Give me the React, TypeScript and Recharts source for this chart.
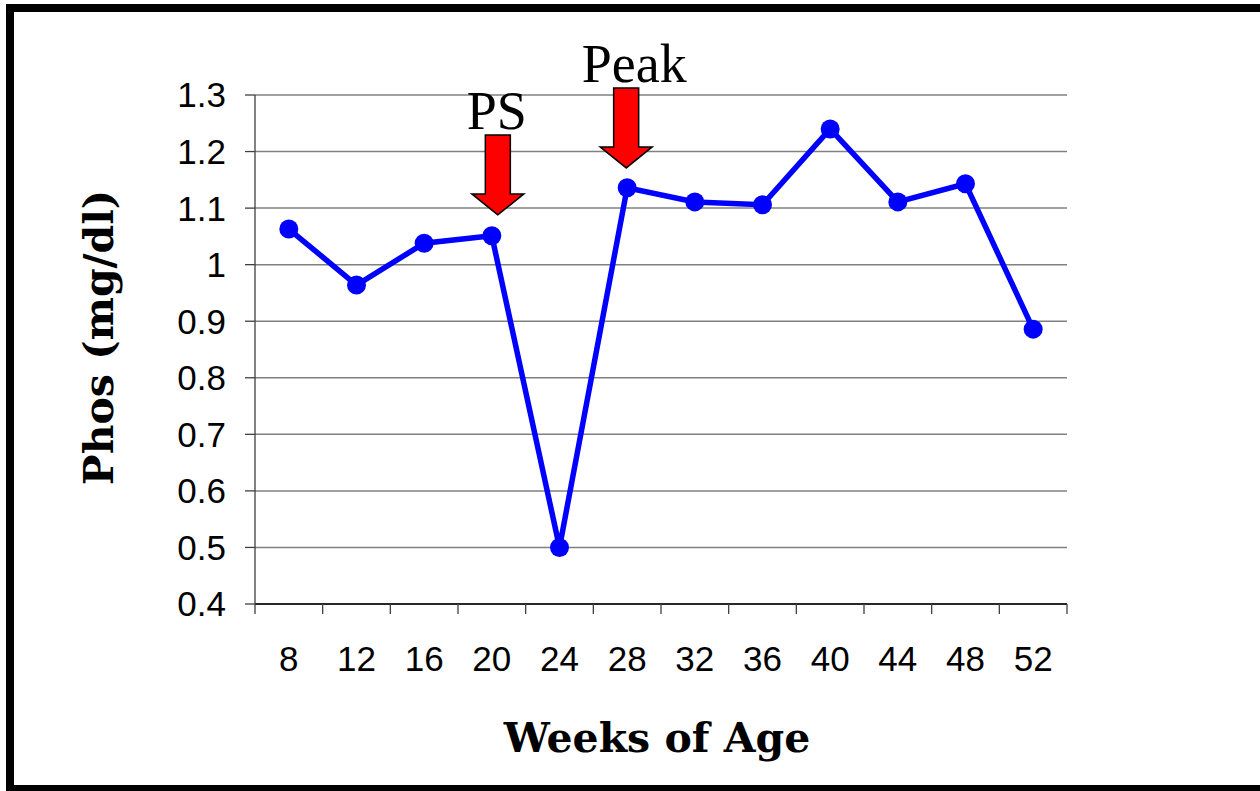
import { LineChart, Line, XAxis, YAxis, CartesianGrid, ReferenceDot } from 'recharts';

const weeks = [8, 12, 16, 20, 24, 28, 32, 36, 40, 44, 48, 52];
const phos = [1.063, 0.964, 1.038, 1.051, 0.5, 1.136, 1.111, 1.106, 1.24, 1.111, 1.143, 0.886];
const yTicks = [0.4, 0.5, 0.6, 0.7, 0.8, 0.9, 1, 1.1, 1.2, 1.3];
const boundaries = [6, 10, 14, 18, 22, 26, 30, 34, 38, 42, 46, 50, 54];
const arrowLabels = ['PS', 'Peak'];
const arrowWeeks = [20, 28];
const arrowTips = [1.088, 1.171];

const data = weeks.map((w, i) => ({ week: w, phos: phos[i] }));
const xTicks = [...boundaries, ...weeks].sort((a, b) => a - b);

const titleFont = '"DejaVu Serif", serif';

function WeekTick(props: any) {
  const { x, y, payload } = props;
  if (boundaries.includes(payload.value)) {
    return <line x1={x} y1={y} x2={x} y2={y + 10} stroke="#404040" strokeWidth={1.3} />;
  }
  return (
    <text x={x} y={y + 67} textAnchor="middle" fontSize={35} fontFamily='"Liberation Sans", Arial, sans-serif' fill="#000">
      {payload.value}
    </text>
  );
}

function Arrow(props: any, label: string, shift: number, textShift: number) {
  const tx = props.cx + shift;
  const ty = props.cy;
  const pts = [
    [tx, ty],
    [tx - 26, ty - 21],
    [tx - 12.5, ty - 21],
    [tx - 12.5, ty - 80],
    [tx + 12.5, ty - 80],
    [tx + 12.5, ty - 21],
    [tx + 26, ty - 21],
  ]
    .map((p) => p.join(','))
    .join(' ');
  return (
    <g>
      <polygon points={pts} fill="#FF0000" stroke="#000" strokeWidth={1.5} strokeLinejoin="miter" />
      <text x={tx + textShift} y={ty - 86} textAnchor="middle" fontSize={54} fontFamily='"Liberation Serif", "Times New Roman", serif' fill="#000">
        {label}
      </text>
    </g>
  );
}

export default function App() {
  return (
    <div style={{ position: 'absolute', left: 0, top: 0, width: 1260, height: 791, background: '#fff', overflow: 'hidden' }}>
      <div
        style={{
          position: 'absolute',
          left: 6,
          top: 4,
          width: 1300,
          height: 787,
          boxSizing: 'border-box',
          borderLeft: '8px solid #000',
          borderTop: '8px solid #000',
          borderBottom: '6px solid #000',
        }}
      />
      <div style={{ position: 'absolute', left: 0, top: 0 }}>
        <LineChart width={1260} height={791} data={data} margin={{ top: 95, right: 193, bottom: 0, left: 0 }}>
          <CartesianGrid vertical={false} stroke="#808080" strokeWidth={1.5} />
          <XAxis
            dataKey="week"
            type="number"
            domain={[6, 54]}
            ticks={xTicks}
            interval={0}
            height={187}
            tickLine={false}
            tickSize={0}
            tickMargin={0}
            axisLine={{ stroke: '#000', strokeWidth: 1.5 }}
            tick={<WeekTick />}
            label={(p: any) => {
              const vb = p.viewBox;
              return (
                <text x={vb.x + vb.width / 2 - 4} y={vb.y + 148} textAnchor="middle" fontSize={41} fontWeight="bold" fontFamily={titleFont} fill="#000">
                  Weeks of Age
                </text>
              );
            }}
          />
          <YAxis
            type="number"
            domain={[0.4, 1.3]}
            ticks={yTicks}
            interval={0}
            width={255}
            tickSize={10}
            tickMargin={19}
            tickLine={{ stroke: '#404040', strokeWidth: 1.3 }}
            axisLine={{ stroke: '#404040', strokeWidth: 1.3 }}
            tick={{ fontSize: 35, fill: '#000', fontFamily: '"Liberation Sans", Arial, sans-serif' }}
            tickFormatter={(v: number) => String(v)}
            label={(p: any) => {
              const vb = p.viewBox;
              const cx = 113;
              const cy = vb.y + vb.height / 2 - 12;
              return (
                <text x={cx} y={cy} transform={`rotate(-90 ${cx} ${cy})`} textAnchor="middle" fontSize={41} fontWeight="bold" fontFamily={titleFont} fill="#000">
                  Phos (mg/dl)
                </text>
              );
            }}
          />
          <Line
            type="linear"
            dataKey="phos"
            stroke="#0000FF"
            strokeWidth={5.5}
            dot={{ r: 9.5, fill: '#0000FF', stroke: 'none' }}
            activeDot={false}
            isAnimationActive={false}
          />
          <ReferenceDot
            x={arrowWeeks[0]}
            y={arrowTips[0]}
            r={0}
            shape={(p: any) => Arrow(p, arrowLabels[0], 6, -1)}
          />
          <ReferenceDot
            x={arrowWeeks[1]}
            y={arrowTips[1]}
            r={0}
            shape={(p: any) => Arrow(p, arrowLabels[1], -1, 8)}
          />
        </LineChart>
      </div>
    </div>
  );
}
